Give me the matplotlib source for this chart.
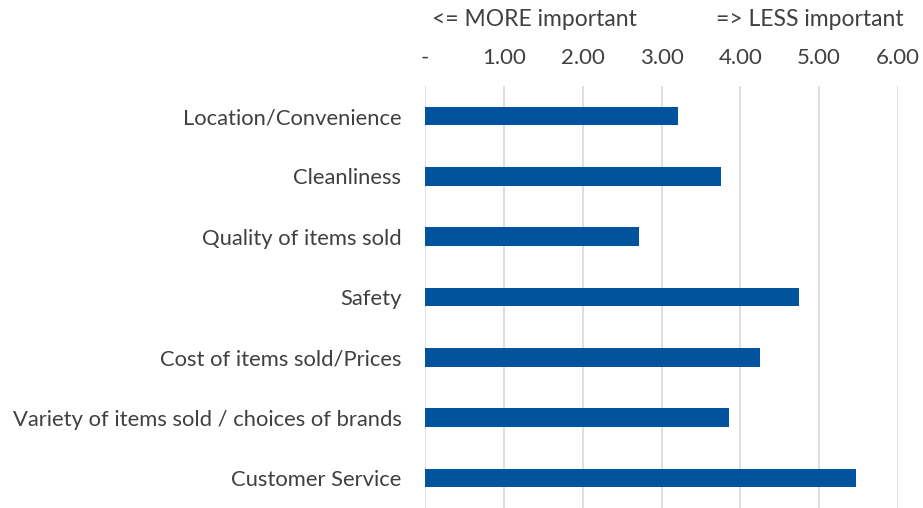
import matplotlib.pyplot as plt

categories = ["Location/Convenience", "Cleanliness", "Quality of items sold", "Safety",
              "Cost of items sold/Prices", "Variety of items sold / choices of brands",
              "Customer Service"]
scores = [3.21, 3.75, 2.71, 4.75, 4.25, 3.85, 5.47]
ticks = [0, 1, 2, 3, 4, 5, 6]
tick_labels = ["-", "1.00", "2.00", "3.00", "4.00", "5.00", "6.00"]

plt.rcParams['font.family'] = ['Lato', 'DejaVu Sans']

fig = plt.figure(figsize=(9.23, 5.08), dpi=100)
ax = fig.add_axes([425 / 923, 0, 473 / 923, 422 / 508])

pos = list(range(len(categories)))
ax.barh(pos, scores, height=0.31, color='#01539D', zorder=3)
ax.set_ylim(len(categories) - 0.5, -0.5)
ax.set_xlim(0, 6)
ax.set_yticks(pos)
ax.set_yticklabels(categories, fontsize=15.8, color='#404040')
ax.set_xticks(ticks)
ax.set_xticklabels(tick_labels, fontsize=16, color='#404040')
ax.xaxis.tick_top()
ax.tick_params(length=0, axis='y', pad=17)
ax.tick_params(length=0, axis='x', pad=13)
ax.grid(axis='x', color='#D9D9D9', linewidth=1.2, zorder=0)
for s in ax.spines.values():
    s.set_visible(False)

fig.text(432 / 923, 1 - 19 / 508, "<= MORE important",
         ha='left', va='center', fontsize=16.5, color='#404040')
fig.text(904 / 923, 1 - 19 / 508, "=> LESS important",
         ha='right', va='center', fontsize=16.5, color='#404040')

fig.savefig("out.png", dpi=100)
